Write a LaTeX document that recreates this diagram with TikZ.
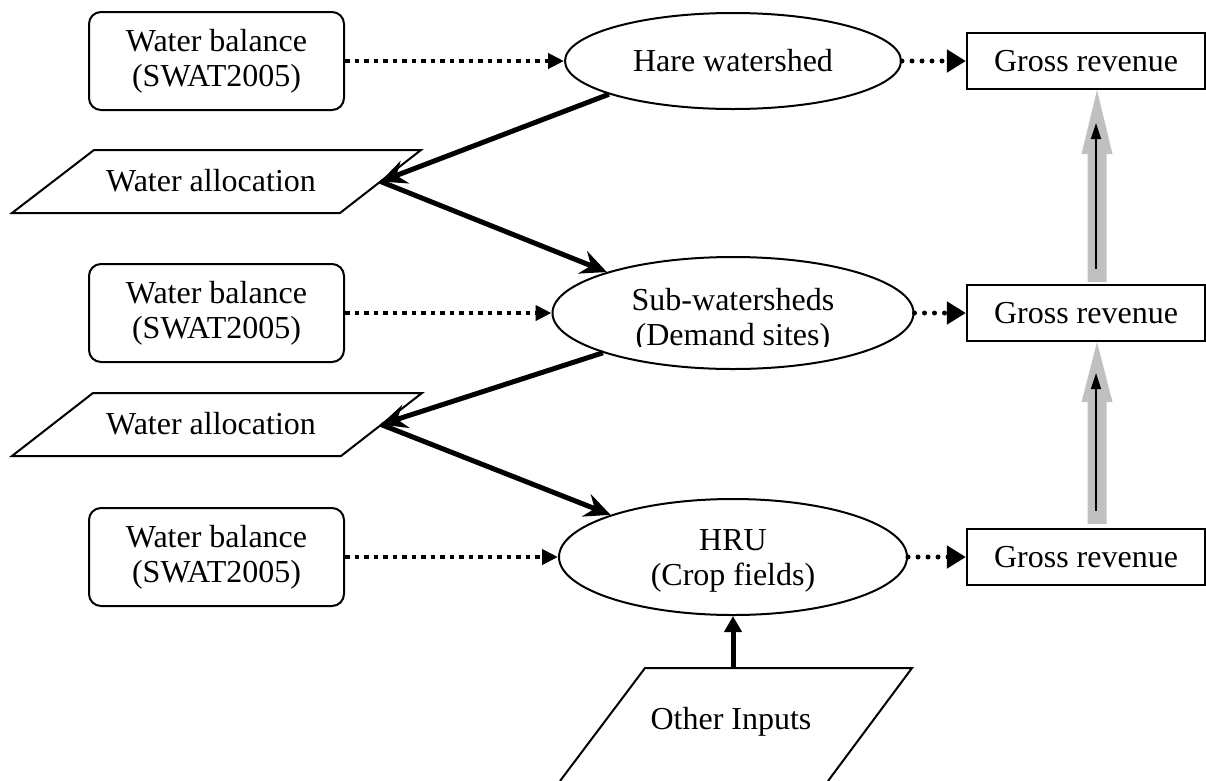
\documentclass[tikz,border=0pt]{standalone}
\usepackage{fontspec}
\setmainfont{Liberation Serif}
\usetikzlibrary{shapes.geometric,arrows.meta,calc}
\definecolor{arrowgray}{HTML}{C0C0C0}
\tikzset{
  txt/.style={font=\fontsize{32}{35}\selectfont, align=center, inner sep=0pt},
  wbbox/.style={txt, draw, line width=2pt, rounded corners=12pt, minimum width=255pt, minimum height=98pt},
  grbox/.style={txt, draw, line width=2.2pt, minimum width=238pt, minimum height=56pt},
  oval/.style={txt, draw, ellipse, line width=2pt},
  sqdot/.style={line width=4.5pt, dash pattern=on 4.75pt off 4.75pt, -{Triangle[length=16pt,width=15pt]}},
  rddot/.style={line width=5pt, line cap=round, dash pattern=on 0pt off 10pt, -{Triangle[length=19pt,width=22pt]}},
  flowarrow/.style={line width=5pt, -{Stealth[length=26pt,width=24pt,inset=9pt]}},
  uparrow/.style={line width=5pt, -{Triangle[length=16pt,width=17pt]}},
  paraline/.style={line width=2pt, line join=miter},
  thinarrow/.style={line width=1.6pt, -{Triangle[length=16pt,width=10pt]}},
  grayarrow/.style={fill=arrowgray},
}
\begin{document}
\begin{tikzpicture}[x=1pt,y=-1pt]
\useasboundingbox (0,0) rectangle (1206,780);
\fill[white] (0,0) rectangle (1206,780);

% left column
\node[wbbox] (wb1) at (216.5,61) {Water balance\\(SWAT2005)};
\node[wbbox] (wb2) at (216.5,313) {Water balance\\(SWAT2005)};
\node[wbbox] (wb3) at (216.5,557) {Water balance\\(SWAT2005)};

% water allocation parallelograms
\draw[paraline] (12,213) -- (94,150) -- (421,150) -- (340,213) -- cycle;
\node[txt] (wa1) at (211,181) {Water allocation};
\coordinate (wa1r) at (380.5,181.5);
\draw[paraline] (12,456) -- (93,393) -- (422,393) -- (341,456) -- cycle;
\node[txt] (wa2) at (211,424) {Water allocation};
\coordinate (wa2r) at (381,424.5);

% ellipses
\node[oval, minimum width=336pt, minimum height=96pt] (hare) at (733,61) {Hare watershed};
\node[oval, minimum width=361pt, minimum height=112pt] (sub) at (733,313) {};
\begin{scope}
  \clip (560,250) rectangle (900,346);
  \node[txt] (subtext) at (733,320) {Sub-watersheds\\(Demand sites)};
\end{scope}
\node[oval, minimum width=348pt, minimum height=116pt] (hru) at (733,557) {};
\node[txt] (hrutext) at (733,561) {HRU\\(Crop fields)};

% gross revenue boxes
\node[grbox] (gr1) at (1086,61) {Gross revenue};
\node[grbox] (gr2) at (1086,313) {Gross revenue};
\node[grbox] (gr3) at (1086,557) {Gross revenue};

% other inputs
\draw[paraline] (560,781) -- (645,668) -- (912,668) -- (828,781);
\node[txt] (other) at (731,722) {Other Inputs};
\coordinate (oitop) at (733,668);

% dotted arrows
\draw[sqdot] (wb1.east) -- (hare.west);
\draw[sqdot] (wb2.east) -- (sub.west);
\draw[sqdot] (wb3.east) -- (hru.west);
\draw[rddot] (hare.east) -- (gr1.west);
\draw[rddot] (sub.east) -- (gr2.west);
\draw[rddot] (hru.east) -- (gr3.west);

% thick flow arrows
\draw[flowarrow] (hare.195) -- (wa1r);
\draw[flowarrow] (wa1r) -- (sub.162);
\draw[flowarrow] (sub.197) -- (wa2r);
\draw[flowarrow] (wa2r) -- (hru.161.5);
\draw[uparrow] (oitop) -- (hru.south);

% gray aggregation arrows
\coordinate (g1tip) at ($(gr1.south)+(11,0)$);
\coordinate (g1base) at ($(gr2.north)+(11,-2)$);
\fill[grayarrow] ($(g1base)+(-9.5,0)$) -- ($(g1tip)+(-9.5,64)$) -- ($(g1tip)+(-15.5,64)$) -- (g1tip)
  -- ($(g1tip)+(15.5,64)$) -- ($(g1tip)+(9.5,64)$) -- ($(g1base)+(9.5,0)$) -- cycle;
\coordinate (g2tip) at ($(gr2.south)+(11,0)$);
\coordinate (g2base) at ($(gr3.north)+(11,-4)$);
\fill[grayarrow] ($(g2base)+(-9.5,0)$) -- ($(g2tip)+(-9.5,60)$) -- ($(g2tip)+(-15.5,60)$) -- (g2tip)
  -- ($(g2tip)+(15.5,60)$) -- ($(g2tip)+(9.5,60)$) -- ($(g2base)+(9.5,0)$) -- cycle;
\draw[thinarrow] ($(gr2.north)+(10,-15)$) -- ($(gr1.south)+(10,33)$);
\draw[thinarrow] ($(gr3.north)+(10,-17)$) -- ($(gr2.south)+(10,31)$);
\end{tikzpicture}
\end{document}
